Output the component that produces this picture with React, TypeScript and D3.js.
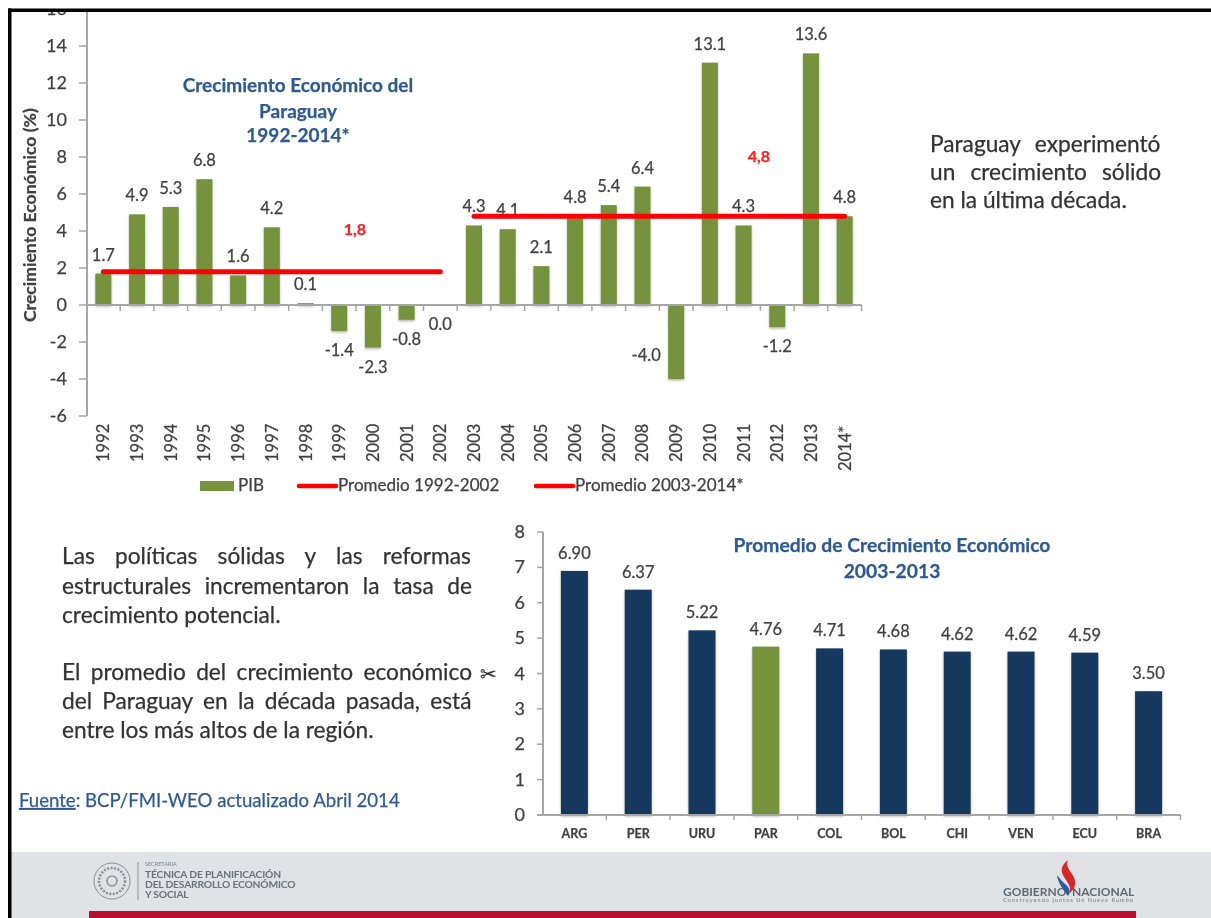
import React from "react";
import * as d3 from "d3";

const FONT = "Lato, Carlito, 'Open Sans', sans-serif";
const GRAY = "#a6a6a6";
const TXT = "#404040";
const BLUE = "#2f5a92";

const years = ["1992","1993","1994","1995","1996","1997","1998","1999","2000","2001","2002","2003","2004","2005","2006","2007","2008","2009","2010","2011","2012","2013","2014*"];
const pib = [1.7,4.9,5.3,6.8,1.6,4.2,0.1,-1.4,-2.3,-0.8,0.0,4.3,4.1,2.1,4.8,5.4,6.4,-4.0,13.1,4.3,-1.2,13.6,4.8];
const avgPeriodA = ["1992","2002"];
const avgPeriodB = ["2003","2014*"];
const avgA = 1.8;
const avgB = 4.8;
const yTicksTop = [-6,-4,-2,0,2,4,6,8,10,12,14,16];

const countries = ["ARG","PER","URU","PAR","COL","BOL","CHI","VEN","ECU","BRA"];
const promedio = [6.90,6.37,5.22,4.76,4.71,4.68,4.62,4.62,4.59,3.50];
const yTicksBottom = [0,1,2,3,4,5,6,7,8];

const rightText = ["Paraguay experimentó","un crecimiento sólido","en la última década."];
const leftText1 = ["Las políticas sólidas y las reformas","estructurales incrementaron la tasa de","crecimiento potencial."];
const leftText2 = ["El promedio del crecimiento económico","del Paraguay en la década pasada, está","entre los más altos de la región."];

const measure = (() => {
  const ctx = document.createElement("canvas").getContext("2d")!;
  return (s: string, size: number) => {
    ctx.font = `${size}px ${FONT}`;
    return ctx.measureText(s).width;
  };
})();

const T = (p: any) => <text stroke={p.fill} strokeWidth={0.25} {...p} />;

function Justified({ lines, x, y, width, lh, size }: any) {
  return (
    <g fontSize={size}>
      {lines.map((l: string, i: number) => {
        const n = l.split(" ").length - 1;
        const isLast = i === lines.length - 1;
        const ws = isLast ? 0 : (width - measure(l, size)) / n;
        return <T key={i} fill="#333" x={x} y={y + i * lh} wordSpacing={ws}>{l}</T>;
      })}
    </g>
  );
}

export default function App() {
  const x1 = d3.scaleBand<string>().domain(years).range([86.5, 861.5]);
  const y1 = d3.scaleLinear().domain([-6, 14]).range([416, 46]);
  const x2 = d3.scaleBand<string>().domain(countries).range([542.5, 1180.5]);
  const y2 = d3.scaleLinear().domain([0, 8]).range([815, 532]);
  const bw1 = 16;
  const bw2 = 27;
  const cx1 = (c: string) => x1(c)! + x1.bandwidth() / 2;
  const cx2 = (c: string) => x2(c)! + x2.bandwidth() / 2;
  const line = d3.line<[number, number]>();

  return (
    <svg width={1211} height={918} style={{ position: "absolute", left: 0, top: 0, display: "block", fontFamily: FONT }}>
      <defs>
        <filter id="soft" x="-2%" y="-2%" width="104%" height="104%">
          <feGaussianBlur stdDeviation="0.45" />
        </filter>
        <filter id="shadow" x="-20%" y="-5%" width="140%" height="115%">
          <feDropShadow dx="0" dy="1.5" stdDeviation="1" floodColor="#000" floodOpacity="0.3" />
        </filter>
      </defs>
      <rect width={1211} height={918} fill="#fff" />
      <g filter="url(#soft)">
        {/* top chart bars */}
        <g filter="url(#shadow)">
          {years.map((c, i) => (
            <rect key={c} x={cx1(c) - bw1 / 2} width={bw1} y={y1(Math.max(pib[i], 0))} height={Math.abs(y1(pib[i]) - y1(0))} fill="#76923c" />
          ))}
        </g>
        {/* top axes */}
        <line x1={87} x2={87} y1={9} y2={416} stroke={GRAY} strokeWidth={2} />
        <line x1={86} x2={861.5} y1={y1(0)} y2={y1(0)} stroke={GRAY} strokeWidth={2} />
        {yTicksTop.map((t) => (
          <g key={t}>
            <line x1={79} x2={87} y1={y1(t)} y2={y1(t)} stroke={GRAY} strokeWidth={1.5} />
            <T x={67} y={y1(t) + 6} textAnchor="end" fontSize={18} fill={TXT}>{t}</T>
          </g>
        ))}
        {x1.domain().map((c) => (
          <line key={c} x1={x1(c)! + x1.bandwidth()} x2={x1(c)! + x1.bandwidth()} y1={y1(0)} y2={y1(0) + 6} stroke={GRAY} strokeWidth={1.5} />
        ))}
        {years.map((c) => (
          <T key={c} transform={`translate(${cx1(c) + 6},${c.length > 4 ? 471 : 462}) rotate(-90)`} fontSize={16.5} fill={TXT}>{c}</T>
        ))}
        {/* bar labels */}
        {years.map((c, i) => {
          const v = pib[i];
          const below = v < 0 || c === "2002";
          const shiftX = v === -4 ? -30 : 0;
          const yy = v === -4 ? y1(-3) : below ? y1(v) + 25 : y1(v) - 13;
          return <T key={c} x={cx1(c) + shiftX} y={yy} textAnchor="middle" fontSize={16.5} fill={TXT}>{v.toFixed(1)}</T>;
        })}
        {/* averages */}
        <path d={line(avgPeriodA.map((c) => [cx1(c), y1(avgA)] as [number, number]))!} stroke="#ff0000" strokeWidth={5} strokeLinecap="round" fill="none" />
        <path d={line(avgPeriodB.map((c) => [cx1(c), y1(avgB)] as [number, number]))!} stroke="#ff0000" strokeWidth={5} strokeLinecap="round" fill="none" />
        <T x={355} y={235} textAnchor="middle" fontSize={16} fontWeight={700} fill="#ff2020">{String(avgA).replace(".", ",")}</T>
        <T x={759} y={162} textAnchor="middle" fontSize={16} fontWeight={700} fill="#ff2020">{String(avgB).replace(".", ",")}</T>
        <T transform="translate(36,322) rotate(-90)" fontSize={17.6} fontWeight={700} fill={TXT}>Crecimiento Económico (%)</T>
        <g fontSize={19} fontWeight={700} textAnchor="middle">
          <T fill={BLUE} x={298} y={92}>Crecimiento Económico del</T>
          <T fill={BLUE} x={298} y={118}>Paraguay</T>
          <T fill={BLUE} x={298} y={142}>1992-2014*</T>
        </g>
        {/* legend */}
        <rect x={200} y={481} width={34} height={10} fill="#76923c" />
        <T x={238} y={491} fontSize={17} fill={TXT}>PIB</T>
        <line x1={299} x2={336} y1={486} y2={486} stroke="#ff0000" strokeWidth={4.5} strokeLinecap="round" />
        <T x={338} y={491} fontSize={17} fill={TXT}>Promedio 1992-2002</T>
        <line x1={536} x2={573} y1={486} y2={486} stroke="#ff0000" strokeWidth={4.5} strokeLinecap="round" />
        <T x={575} y={491} fontSize={17} fill={TXT}>Promedio 2003-2014*</T>

        {/* side texts */}
        <Justified lines={rightText} x={930} y={152} width={231} lh={28} size={22.7} />
        <Justified lines={leftText1} x={62} y={564} width={410} lh={29.5} size={22.7} />
        <Justified lines={leftText2} x={62} y={680} width={410} lh={29} size={22.7} />
        <T x={488} y={681} fontSize={20} fill="#333" textAnchor="middle">✂</T>
        <T x={19} y={807} fontSize={18.6} fill={BLUE}><tspan textDecoration="underline">Fuente</tspan>: BCP/FMI-WEO actualizado Abril 2014</T>

        {/* bottom chart */}
        <g filter="url(#shadow)">
          {countries.map((c, i) => (
            <rect key={c} x={cx2(c) - bw2 / 2} width={bw2} y={y2(promedio[i])} height={y2(0) - y2(promedio[i])} fill={c === "PAR" ? "#76923c" : "#17375e"} />
          ))}
        </g>
        <line x1={543} x2={543} y1={532} y2={815} stroke={GRAY} strokeWidth={2} />
        <line x1={537} x2={1180.5} y1={815} y2={815} stroke={GRAY} strokeWidth={2} />
        {yTicksBottom.map((t) => (
          <g key={t}>
            <line x1={537} x2={543} y1={y2(t)} y2={y2(t)} stroke={GRAY} strokeWidth={1.5} />
            <T x={525} y={y2(t) + 6} textAnchor="end" fontSize={18} fill={TXT}>{t}</T>
          </g>
        ))}
        {countries.map((c) => (
          <line key={c} x1={x2(c)! + x2.bandwidth()} x2={x2(c)! + x2.bandwidth()} y1={815} y2={820} stroke={GRAY} strokeWidth={1.5} />
        ))}
        {countries.map((c) => (
          <T key={c} x={cx2(c)} y={838} textAnchor="middle" fontSize={12.5} fontWeight={700} fill={TXT}>{c}</T>
        ))}
        {countries.map((c, i) => (
          <T key={c} x={cx2(c)} y={y2(promedio[i]) - 12} textAnchor="middle" fontSize={16.5} fill={TXT}>{promedio[i].toFixed(2)}</T>
        ))}
        <g fontSize={19.3} fontWeight={700} textAnchor="middle">
          <T fill={BLUE} x={892} y={552}>Promedio de Crecimiento Económico</T>
          <T fill={BLUE} x={892} y={578}>2003-2013</T>
        </g>

        {/* footer */}
        <rect x={0} y={852} width={1211} height={66} fill="#dfe3e5" />
        <rect x={89} y={911} width={1047} height={7} fill="#bd0a2e" />
        <g fill="none" stroke="#8a9295">
          <circle cx={112} cy={881} r={18} strokeWidth={1} />
          <circle cx={112} cy={881} r={13} strokeWidth={2.5} strokeDasharray="2 1.5" />
          <circle cx={112} cy={881} r={5} strokeWidth={1.5} />
          <line x1={138} x2={138} y1={862} y2={900} strokeWidth={1} />
        </g>
        <text x={145} y={866} fontSize={5.5} fill="#7c8488">SECRETARIA</text>
        <g fontSize={10.3} fontWeight={700} fill="#6b7378" letterSpacing={-0.2}>
          <text x={145} y={878}>TÉCNICA DE PLANIFICACIÓN</text>
          <text x={145} y={888}>DEL DESARROLLO ECONÓMICO</text>
          <text x={145} y={898}>Y SOCIAL</text>
        </g>
        <g fontWeight={700} fill="#5d6b76">
          <text x={1003} y={896} fontSize={12}>GOBIERNO</text>
          <text x={1072} y={896} fontSize={12}>NACIONAL</text>
          <text x={1003} y={902} fontSize={5.5} fill="#8a9295" textLength={130}>Construyendo juntos Un Nuevo Rumbo</text>
        </g>
        <path d="M1068 860 C1058 868 1062 874 1066 880 C1070 886 1072 890 1068 894 C1078 888 1076 880 1072 874 C1068 868 1066 866 1068 860Z" fill="#d8262c" />
        <path d="M1057 875 C1058 884 1064 890 1068 896 C1072 891 1068 886 1064 883 C1061 880 1059 878 1057 875Z" fill="#2c5aa0" />
      </g>
      {/* frame */}
      <rect x={0} y={0} width={1211} height={9} fill="#fff" />
      <rect x={0} y={0} width={8} height={918} fill="#fff" />
      <rect x={8} y={8.5} width={1203} height={3.5} fill="#000" />
      <rect x={8} y={8.5} width={3.5} height={910} fill="#000" />
    </svg>
  );
}
